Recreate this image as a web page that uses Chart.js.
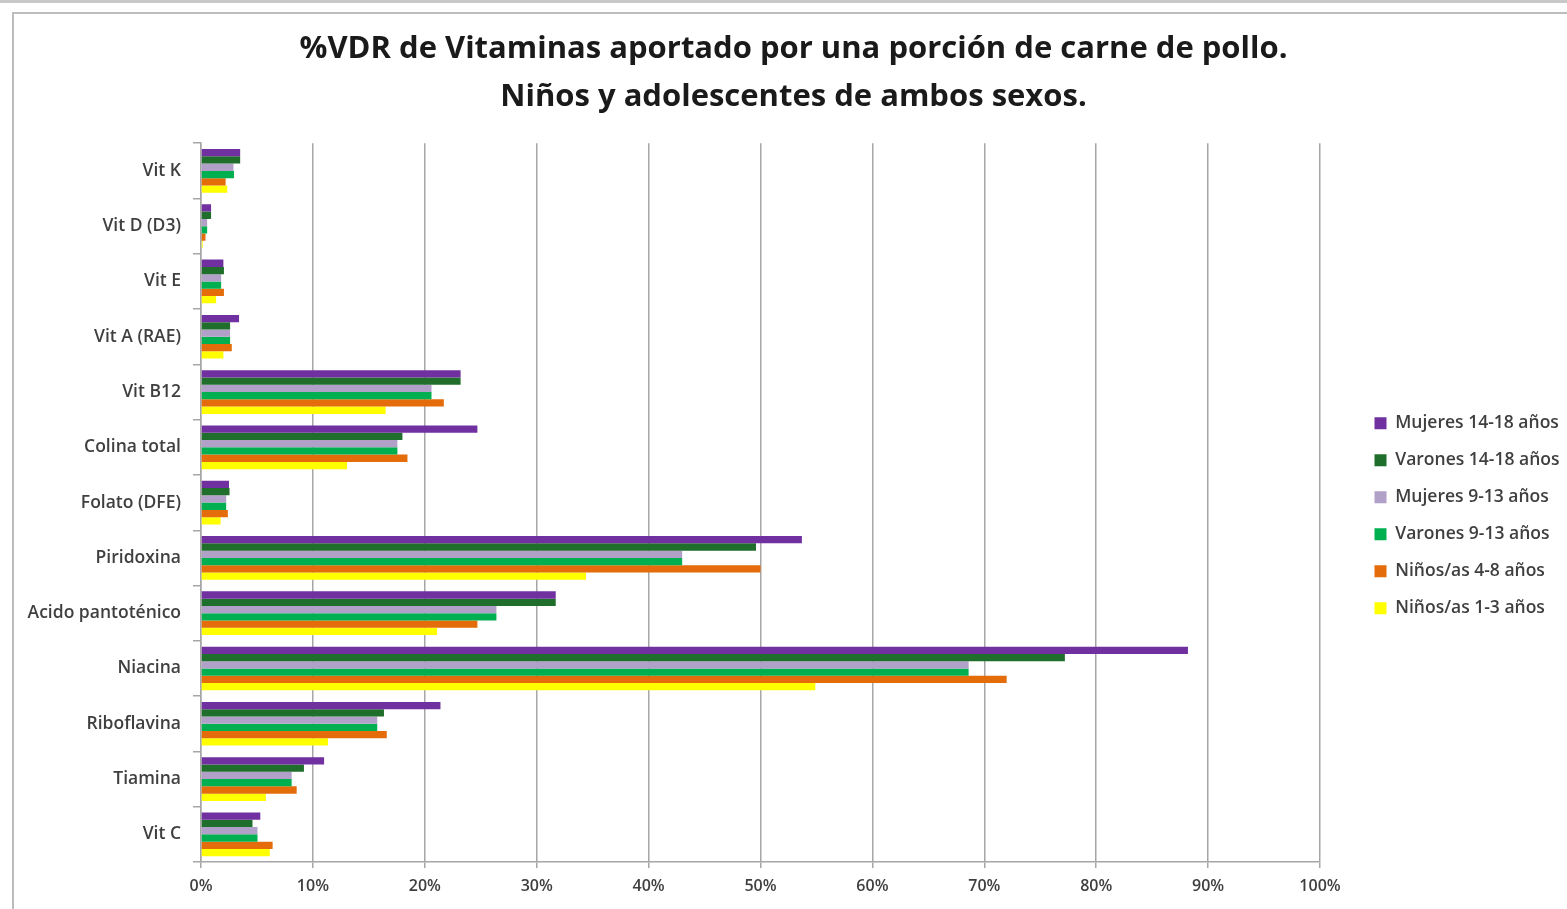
<!DOCTYPE html>
<html>
<head>
<meta charset="utf-8">
<script src="https://cdn.jsdelivr.net/npm/chart.js@4.4.1/dist/chart.umd.min.js"></script>
<style>
  html, body { margin: 0; padding: 0; background: #fff; }
  body { width: 1567px; height: 909px; position: relative; overflow: hidden; }
  .topline { position: absolute; left: 0; top: 0; width: 1567px; height: 3px; background: #c8c8c8; }
  .frame { position: absolute; left: 12px; top: 12px; width: 1600px; height: 950px;
           border-left: 2px solid #bdbdbd; border-top: 2px solid #bdbdbd; }
  #wrap { position: absolute; left: 0; top: 0; width: 1567px; height: 909px; }
</style>
</head>
<body>
<div class="topline"></div>
<div class="frame"></div>
<div id="wrap"><canvas id="chartCanvas"></canvas></div>
<script>
const categories = ["Vit K", "Vit D (D3)", "Vit E", "Vit A (RAE)", "Vit B12", "Colina total",
  "Folato (DFE)", "Piridoxina", "Acido pantoténico", "Niacina", "Riboflavina", "Tiamina", "Vit C"];

const xTicks = [0, 10, 20, 30, 40, 50, 60, 70, 80, 90, 100];

const mujeres1418 = [3.5, 0.9, 2.0, 3.4, 23.2, 24.7, 2.5, 53.7, 31.7, 88.2, 21.4, 11.0, 5.3];
const varones1418 = [3.5, 0.9, 2.05, 2.6, 23.2, 18.0, 2.55, 49.6, 31.7, 77.2, 16.35, 9.2, 4.6];
const mujeres913  = [2.9, 0.55, 1.8, 2.6, 20.6, 17.55, 2.25, 43.0, 26.4, 68.6, 15.75, 8.1, 5.05];
const varones913  = [2.95, 0.55, 1.8, 2.6, 20.6, 17.55, 2.25, 43.0, 26.4, 68.6, 15.75, 8.1, 5.05];
const ninos48     = [2.2, 0.4, 2.05, 2.75, 21.7, 18.45, 2.4, 50.0, 24.7, 72.0, 16.6, 8.55, 6.4];
const ninos13     = [2.35, 0.15, 1.35, 2.0, 16.5, 13.05, 1.75, 34.4, 21.1, 54.9, 11.35, 5.8, 6.15];

const seriesNames = ["Mujeres 14-18 años", "Varones 14-18 años", "Mujeres 9-13 años",
  "Varones 9-13 años", "Niños/as 4-8 años", "Niños/as 1-3 años"];
const seriesColors = ["#7030a0", "#1f6e2b", "#b1a0c7", "#00b050", "#e46c0a", "#ffff00"];
const seriesValues = [mujeres1418, varones1418, mujeres913, varones913, ninos48, ninos13];

const textColor = "#3f3f3f";
const gridColor = "#a6a6a6";

const datasets = seriesNames.map((name, i) => ({
  label: name,
  data: seriesValues[i],
  backgroundColor: seriesColors[i],
  borderWidth: 0,
  categoryPercentage: 0.79,
  barPercentage: 1.0
}));

const ctx = document.getElementById("chartCanvas").getContext("2d");
new Chart(ctx, {
  type: "bar",
  data: { labels: categories, datasets },
  options: {
    indexAxis: "y",
    responsive: true,
    maintainAspectRatio: false,
    animation: false,
    layout: { padding: { left: 20, top: 16, right: 0, bottom: 0 } },
    plugins: {
      title: {
        display: true,
        text: ["%VDR de Vitaminas aportado por una porción de carne de pollo.",
               "Niños y adolescentes de ambos sexos."],
        color: "#1a1a1a",
        font: { family: "Open Sans", size: 31, weight: "bold", lineHeight: 1.52 },
        padding: { top: 10, bottom: 23 }
      },
      legend: {
        position: "right",
        fullSize: false,
        maxWidth: 212,
        title: { display: true, text: " ", font: { size: 12 }, padding: 6 },
        labels: {
          color: textColor,
          font: { family: "Open Sans", size: 17.5, weight: "600" },
          boxWidth: 12,
          boxHeight: 12,
          padding: 19.5
        }
      },
      tooltip: { enabled: false }
    },
    scales: {
      x: {
        min: 0,
        max: 100,
        afterBuildTicks: (scale) => { scale.ticks = xTicks.map(v => ({ value: v })); },
        afterFit: (scale) => { scale.height = 47; },
        ticks: {
          color: textColor,
          font: { family: "Open Sans", size: 16, weight: "600" },
          padding: 9,
          callback: (v) => v + "%"
        },
        grid: { color: gridColor, lineWidth: 1.5, tickLength: 6, drawTicks: true },
        border: { color: gridColor, width: 1.5 }
      },
      y: {
        afterFit: (scale) => { scale.width = 181; },
        ticks: {
          color: textColor,
          font: { family: "Open Sans", size: 17.5, weight: "600" },
          padding: 12
        },
        grid: { offset: true, drawOnChartArea: false, drawTicks: true, tickLength: 8, color: gridColor, lineWidth: 1.5 },
        border: { color: gridColor, width: 1.5 }
      },
      yPad: {
        type: "category",
        position: "right",
        labels: categories,
        ticks: { display: false },
        grid: { display: false },
        border: { display: false },
        afterFit: (scale) => { scale.width = 35; }
      }
    }
  }
});
</script>
</body>
</html>
